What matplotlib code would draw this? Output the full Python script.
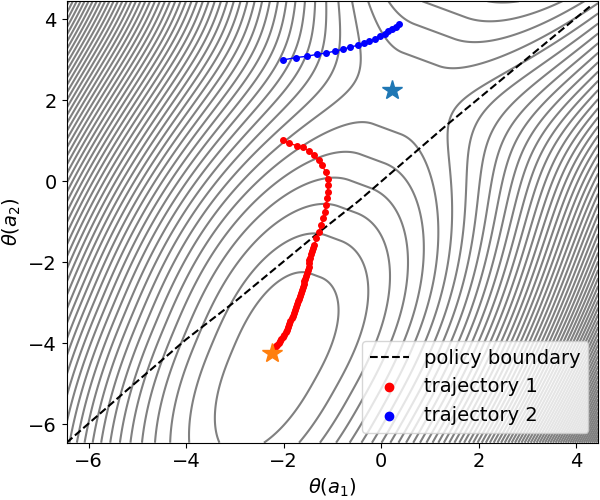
import numpy as np
import matplotlib
matplotlib.use("Agg")
import matplotlib.pyplot as plt

# axis range
lim = (-6.45, 4.45)

# stationary points
saddle = (0.22, 2.25)
local_opt = (-2.23, -4.24)

# policy boundary
boundary_x = [-6.45, -5.22, -4.0, -2.97, -1.28, -0.46, 1.37, 4.29]
boundary_y = [-6.45, -5.16, -3.9, -2.94, -1.26, -0.48, 1.42, 4.33]

# trajectory 1 (red)
traj1_x = [-2.01, -1.88, -1.72, -1.60, -1.48, -1.38, -1.28, -1.21, -1.14, -1.10,
           -1.09, -1.10, -1.11, -1.13, -1.16, -1.19, -1.23, -1.28, -1.33, -1.37,
           -1.39, -1.41, -1.43, -1.45, -1.47, -1.48, -1.49, -1.50, -1.52, -1.54,
           -1.56, -1.58, -1.59, -1.61, -1.62, -1.64, -1.66, -1.68, -1.70, -1.72,
           -1.74, -1.76, -1.78, -1.81, -1.83, -1.86, -1.88, -1.91, -1.93, -1.96,
           -1.99, -2.02, -2.05, -2.08, -2.10, -2.13, -2.16, -2.18, -2.20]
traj1_y = [1.02, 0.94, 0.88, 0.84, 0.75, 0.65, 0.52, 0.40, 0.24, 0.07,
           -0.09, -0.26, -0.42, -0.58, -0.75, -0.91, -1.08, -1.24, -1.40, -1.57,
           -1.65, -1.72, -1.80, -1.88, -1.95, -2.02, -2.10, -2.18, -2.25, -2.33,
           -2.40, -2.47, -2.54, -2.61, -2.68, -2.75, -2.82, -2.89, -2.96, -3.03,
           -3.10, -3.17, -3.24, -3.31, -3.38, -3.45, -3.52, -3.59, -3.66, -3.72,
           -3.78, -3.84, -3.89, -3.94, -3.99, -4.03, -4.06, -4.09, -4.11]

# trajectory 2 (blue)
traj2_x = [-2.01, -1.74, -1.52, -1.31, -1.13, -0.94, -0.79, -0.63, -0.48,
           -0.35, -0.24, -0.12, -0.02, 0.07, 0.15, 0.23, 0.30, 0.37]
traj2_y = [3.00, 3.06, 3.09, 3.14, 3.17, 3.22, 3.26, 3.32, 3.36,
           3.41, 3.46, 3.52, 3.59, 3.65, 3.71, 3.77, 3.82, 3.89]


def landscape(x, y):
    # valley running from the lower-left basin through the saddle to the top
    ang = np.deg2rad(66)
    dx = x - saddle[0]
    dy = y - saddle[1]
    u = np.cos(ang) * dx + np.sin(ang) * dy
    w = -np.sin(ang) * dx + np.cos(ang) * dy
    w = w - (-0.5 + 0.084 * (u + 7.0))
    wl = np.maximum(w, 0)
    wr = np.minimum(w + 0.1 * (u + 7.0), 0)
    hills = 1.0 * wl ** 2 + 0.85 * wr ** 2 + 0.0117 * wr ** 4
    basin = -10.0 * np.exp(-(np.abs(u + 7.2) / 6.45) ** 2.5)
    top = -2.4 * 0.6 * np.log1p(np.exp(u / 0.6))
    return hills + basin + top


g = np.linspace(lim[0], lim[1], 600)
X, Y = np.meshgrid(g, g)
Z = landscape(X, Y)

fig = plt.figure(figsize=(6, 5), dpi=100)
ax = fig.add_axes([0.111, 0.1146, 0.886, 0.883])
ax.contour(X, Y, Z, levels=np.arange(-9.2, 300, 1.0), colors='gray', linewidths=1.5,
           linestyles='solid')
ax.plot(boundary_x, boundary_y, 'k--', lw=1.5, label='policy boundary')
ax.plot(traj1_x, traj1_y, '-o', color='red', ms=4, lw=1)
ax.plot(traj2_x, traj2_y, '-o', color='blue', ms=4, lw=1)
ax.scatter([], [], c='red', label='trajectory 1')
ax.scatter([], [], c='blue', label='trajectory 2')
ax.plot(saddle[0], saddle[1], '*', color='tab:blue', ms=15)
ax.plot(local_opt[0], local_opt[1], '*', color='tab:orange', ms=15)
ax.set_xlim(lim)
ax.set_ylim(lim)
ax.set_xticks([-6, -4, -2, 0, 2, 4])
ax.set_yticks([-6, -4, -2, 0, 2, 4])
ax.tick_params(labelsize=14)
ax.set_xlabel(r'$\theta(a_1)$', fontsize=14)
ax.set_ylabel(r'$\theta(a_2)$', fontsize=14)
ax.legend(loc='lower right', fontsize=14)
fig.savefig('out.png', dpi=100)
